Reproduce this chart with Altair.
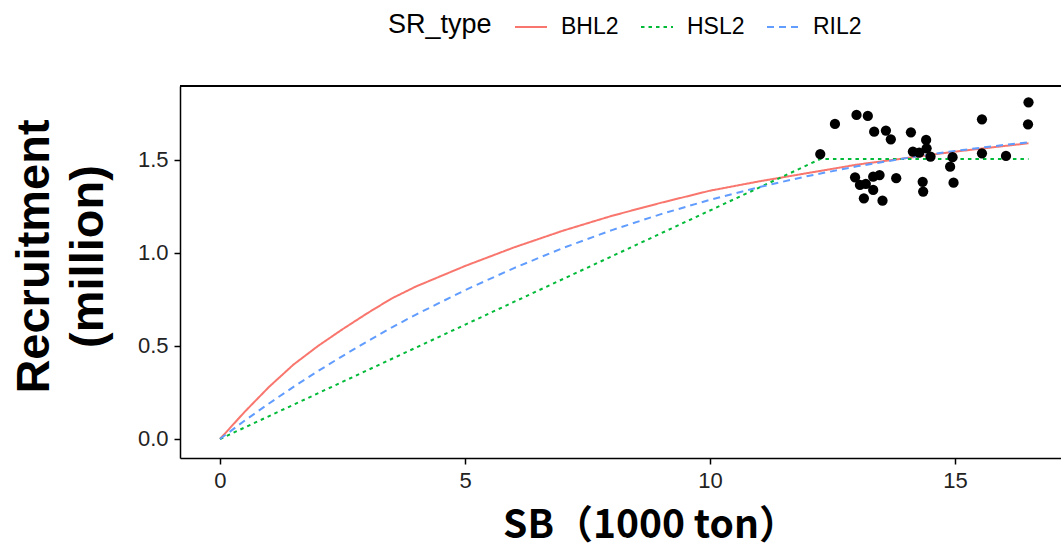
import altair as alt
import pandas as pd

# Observed stock-recruitment points (SB in 1000 ton, recruitment in million)
obs_sb = [12.25, 12.55, 12.99, 13.22, 13.35, 13.59, 13.69, 14.10, 14.41, 14.42,
          14.14, 14.27, 14.50, 14.95, 14.90, 14.97, 14.34, 14.35, 13.80, 13.46,
          13.33, 12.96, 13.06, 13.18, 13.33, 13.14, 13.52, 15.55, 15.55, 16.04,
          16.50, 16.49]
obs_rec = [1.532, 1.694, 1.742, 1.737, 1.652, 1.658, 1.611, 1.649, 1.608, 1.563,
           1.545, 1.539, 1.518, 1.515, 1.464, 1.378, 1.383, 1.330, 1.402, 1.419,
           1.410, 1.407, 1.366, 1.371, 1.339, 1.294, 1.281, 1.719, 1.536, 1.522,
           1.810, 1.692]

# Fitted curves
curve_sb = [0, 0.5, 1, 1.5, 2, 2.5, 3, 3.5, 4, 5, 6, 7, 8, 9, 10, 11, 12, 13,
            14, 15, 16, 16.5]
bhl2_rec = [0, 0.145, 0.28, 0.40, 0.50, 0.59, 0.675, 0.755, 0.82, 0.93, 1.03,
            1.12, 1.20, 1.27, 1.335, 1.385, 1.43, 1.475, 1.51, 1.545, 1.575, 1.59]
ril2_rec = [0, 0.098, 0.191, 0.28, 0.365, 0.446, 0.524, 0.599, 0.669, 0.80,
            0.919, 1.027, 1.123, 1.209, 1.286, 1.354, 1.414, 1.466, 1.51, 1.549,
            1.581, 1.595]
hsl2_sb = [0, 12.25, 16.5]
hsl2_rec = [0, 1.505, 1.505]

series = ["BHL2", "HSL2", "RIL2"]
colors = ["#F8766D", "#00BA38", "#619CFF"]
dashes = [[1, 0], [3.5, 4], [7, 5]]

x_ticks = [0, 5, 10, 15]
y_ticks = [0.0, 0.5, 1.0, 1.5]

rows = []
for s, r in zip(curve_sb, bhl2_rec):
    rows.append({"SB": s, "R": r, "SR_type": "BHL2", "ord": 0})
for s, r in zip(hsl2_sb, hsl2_rec):
    rows.append({"SB": s, "R": r, "SR_type": "HSL2", "ord": 1})
for s, r in zip(curve_sb, ril2_rec):
    rows.append({"SB": s, "R": r, "SR_type": "RIL2", "ord": 2})
curves = pd.DataFrame(rows)
points = pd.DataFrame({"SB": obs_sb, "R": obs_rec})

W, H = 881, 372
x_scale = alt.Scale(domain=[-0.8163, 17.163], nice=False, zero=False)
y_scale = alt.Scale(domain=[-0.1022, 1.8978], nice=False, zero=False)

x_axis = alt.Axis(
    values=x_ticks, format="d", title="SB（1000 ton）", grid=False,
    titleFont="Noto Sans CJK JP", titleFontSize=39, titleFontWeight="bold",
    titleColor="black", titleAlign="center", titleBaseline="alphabetic",
    titleX=470, titleY=79,
)
y_axis = alt.Axis(
    values=y_ticks, format=".1f", title=["Recruitment", "(million)"], grid=False,
    titleFont="Liberation Sans", titleFontSize=47, titleFontWeight="bold",
    titleColor="black", titleAngle=270, titleAlign="center", titleBaseline="top",
    titleX=-169, titleY=170, titleLineHeight=54,
)

lines = alt.Chart(curves).mark_line(strokeWidth=2).encode(
    x=alt.X("SB:Q", scale=x_scale, axis=x_axis),
    y=alt.Y("R:Q", scale=y_scale, axis=y_axis),
    color=alt.Color("SR_type:N", scale=alt.Scale(domain=series, range=colors),
                    legend=alt.Legend(title="SR_type")),
    strokeDash=alt.StrokeDash("SR_type:N", scale=alt.Scale(domain=series, range=dashes),
                              legend=alt.Legend(title="SR_type")),
    order="ord:Q",
)

dots = alt.Chart(points).mark_circle(size=105, color="black", opacity=1).encode(
    x=alt.X("SB:Q", scale=x_scale),
    y=alt.Y("R:Q", scale=y_scale),
)

top_border = alt.Chart(points).mark_rule(color="black", strokeWidth=1.2).encode(
    x=alt.value(0), x2=alt.value(W), y=alt.value(0)
)

chart = alt.layer(lines, dots, top_border).properties(
    width=W, height=H,
    autosize=alt.AutoSizeParams(type="none"),
    padding={"left": 180, "top": 86, "right": 0, "bottom": 92},
).configure_view(stroke=None).configure_axis(
    domainColor="black", domainWidth=1.5, tickColor="black", tickWidth=1.5,
    tickSize=6, labelFont="Liberation Sans", labelFontSize=22, labelColor="#222222",
    labelPadding=6,
).configure_legend(
    orient="none", legendX=208, legendY=-76, direction="horizontal",
    titleOrient="left", titleFont="Liberation Sans", titleFontSize=27,
    titleFontWeight="normal", titleColor="black", titlePadding=22,
    labelFont="Liberation Sans", labelFontSize=23, labelColor="black",
    labelOffset=13, columnPadding=18, symbolType="stroke", symbolSize=1024,
    symbolStrokeWidth=2, titleBaseline="middle", titleAnchor="middle",
)

chart.save("out.html", embed_options={"renderer": "svg", "actions": False})
